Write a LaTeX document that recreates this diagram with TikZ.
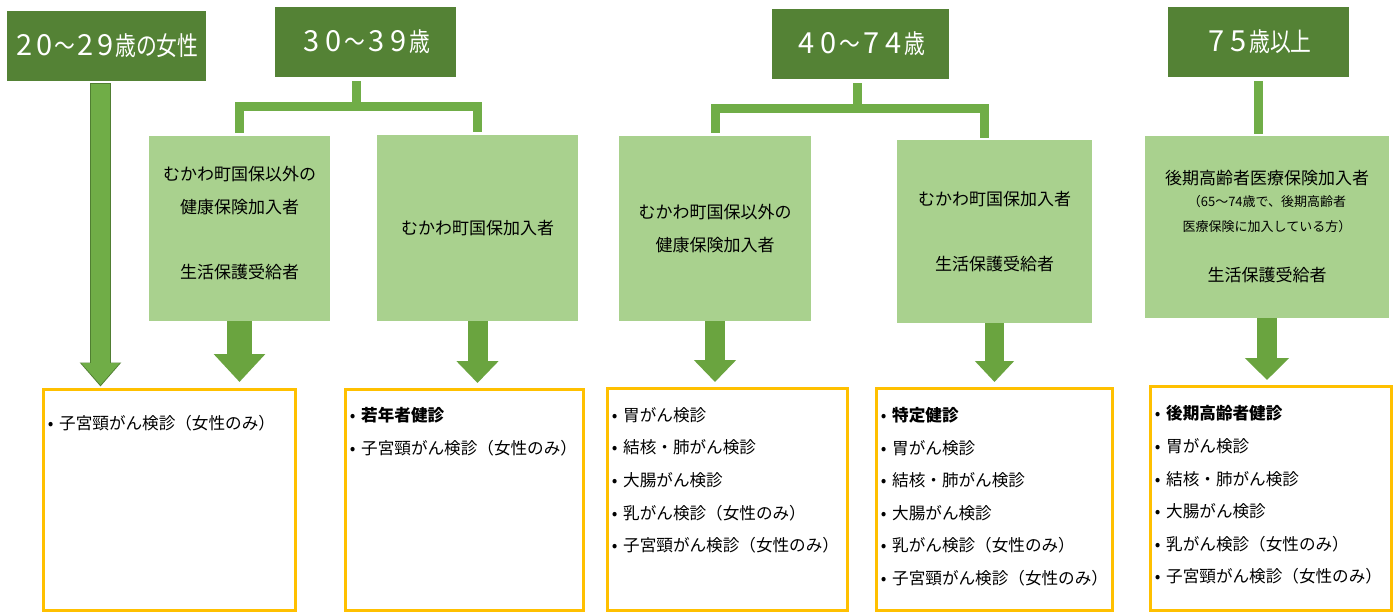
\documentclass[tikz,border=0pt]{standalone}
\usepackage{fontspec}
\setmainfont{Noto Sans CJK JP}
\newfontfamily\cabfont[FakeStretch=0.8]{Noto Sans CJK JP}
\usetikzlibrary{arrows.meta,positioning}

\definecolor{verdeosc}{HTML}{548235}
\definecolor{verdecla}{HTML}{A9D18E}
\definecolor{verdemed}{HTML}{70AD47}
\definecolor{verdeflecha}{HTML}{6AA43F}
\definecolor{verdeborde}{HTML}{507E32}
\definecolor{naranja}{HTML}{FFC000}

\newcommand{\vineta}{\makebox[17pt]{•}}
\newcommand{\cifra}[2][22pt]{\makebox[#1]{\rmfamily\fontsize{29}{30}\selectfont #2}}

\tikzset{
  edad/.style={fill=verdeosc, text=white, font=\cabfont\fontsize{26}{30}\selectfont, minimum height=70pt, inner sep=0pt},
  grupo/.style={fill=verdecla, font=\fontsize{17}{33}\selectfont, align=center, inner sep=0pt},
  examen/.style={draw=naranja, line width=3pt, inner sep=0pt},
  lista/.style={font=\fontsize{16.6}{32.6}\selectfont, align=left, inner sep=0pt},
  rama/.style={draw=verdemed, line width=9pt},
  flecha/.style={draw=verdeflecha, line width=20pt, -{Triangle[width=41pt,length=22pt]}, shorten >=5pt},
}

\begin{document}
\begin{tikzpicture}[x=1pt,y=-1pt]
  % Fondo
  \useasboundingbox[fill=white] (0,0) rectangle (1395,613);

  % Edades
  \node[edad, minimum width=199pt] (e20) at (106.5,46) {\cifra[20pt]{2}\cifra[20pt]{0}～\cifra[20pt]{2}\cifra[20pt]{9}歳の女性};
  \node[edad, minimum width=181pt] (e30) at (365.5,42) {\cifra{3}\cifra{0}～\cifra{3}\cifra{9}歳};
  \node[edad, minimum width=177pt] (e40) at (860.5,44) {\cifra{4}\cifra{0}～\cifra{7}\cifra{4}歳};
  \node[edad, minimum width=181pt] (e75) at (1258.5,42) {\cifra{7}\cifra{5}歳以上};

  % Grupos de seguro
  \node[grupo, minimum width=181pt, minimum height=185pt, text depth=12pt] (g30a) at (239.5,228.5) {むかわ町国保以外の\\健康保険加入者\\[32pt]生活保護受給者};
  \node[grupo, minimum width=201pt, minimum height=186pt] (g30b) at (477.5,228) {むかわ町国保加入者};
  \node[grupo, minimum width=192pt, minimum height=185pt] (g40a) at (715,228.5) {むかわ町国保以外の\\健康保険加入者};
  \node[grupo, minimum width=195pt, minimum height=183pt] (g40b) at (994.5,231.5) {むかわ町国保加入者\\[32pt]生活保護受給者};
  \node[grupo, minimum width=244pt, minimum height=182pt, font=\fontsize{17}{22}\selectfont] (g75) at (1267,227)
    {後期高齢者医療保険加入者\\{\fontsize{13}{22}\selectfont （65～74歳で、後期高齢者}\\[3pt]{\fontsize{13}{22}\selectfont 医療保険に加入している方）}\\[28pt]生活保護受給者};

  % Cuadros de examenes
  \node[examen, minimum width=252pt, minimum height=221pt] (x20) at (169.5,500) {};
  \node[examen, minimum width=238pt, minimum height=221pt] (x30) at (464.5,500) {};
  \node[examen, minimum width=240pt, minimum height=222pt] (x40a) at (727.5,499.5) {};
  \node[examen, minimum width=236pt, minimum height=222pt] (x40b) at (994.5,499.5) {};
  \node[examen, minimum width=241pt, minimum height=224pt] (x75) at (1271,498.5) {};

  % Listas
  \node[lista, below right=27pt and 0pt of x20.north west] (l20) {\vineta 子宮頸がん検診（女性のみ）};
  \node[lista, below right=19pt and 0pt of x30.north west] (l30) {\vineta{\bfseries 若年者健診}\\\vineta 子宮頸がん検診（女性のみ）};
  \node[lista, below right=20pt and 0pt of x40a.north west] (l40a) {\vineta 胃がん検診\\\vineta 結核・肺がん検診\\\vineta 大腸がん検診\\\vineta 乳がん検診（女性のみ）\\\vineta 子宮頸がん検診（女性のみ）};
  \node[lista, below right=20pt and 0pt of x40b.north west] (l40b) {\vineta{\bfseries 特定健診}\\\vineta 胃がん検診\\\vineta 結核・肺がん検診\\\vineta 大腸がん検診\\\vineta 乳がん検診（女性のみ）\\\vineta 子宮頸がん検診（女性のみ）};
  \node[lista, below right=20.5pt and 0pt of x75.north west] (l75) {\vineta{\bfseries 後期高齢者健診}\\\vineta 胃がん検診\\\vineta 結核・肺がん検診\\\vineta 大腸がん検診\\\vineta 乳がん検診（女性のみ）\\\vineta 子宮頸がん検診（女性のみ）};

  % Ramas
  \coordinate (j30) at (356,106.5);
  \coordinate (j40) at (857,108);
  \draw[rama, shorten <=4pt] (j30 |- e30.south) -- (j30);
  \draw[rama, shorten <=3pt, shorten >=3pt] (g30a.north) |- (j30) -| (g30b.north);
  \draw[rama, shorten <=4pt] (j40 |- e40.south) -- (j40);
  \draw[rama, shorten <=3pt, shorten >=2pt] (g40a.north) |- (j40) -| ([xshift=-10pt]g40b.north);
  \draw[rama, shorten <=4pt, shorten >=2pt] (e75.south) -- (e75.south |- g75.north);

  % Flechas
  \draw[flecha, draw=verdeborde, line width=21pt, -{Triangle[width=40pt,length=24pt]}, shorten <=2pt, shorten >=1.5pt] ([xshift=-6pt]e20.south) -- ([xshift=-6pt]e20.south |- x20.north);
  \draw[flecha, draw=verdemed, line width=19pt, -{Triangle[width=37pt,length=22pt]}, shorten <=3pt, shorten >=3pt] ([xshift=-6pt]e20.south) -- ([xshift=-6pt]e20.south |- x20.north);
  \draw[flecha, line width=25pt, -{Triangle[width=50pt,length=28pt]}, shorten >=6pt] (g30a.south) -- (g30a.south |- x20.north);
  \draw[flecha] (g30b.south) -- (g30b.south |- x30.north);
  \draw[flecha] (g40a.south) -- (g40a.south |- x40a.north);
  \draw[flecha, line width=19pt, -{Triangle[width=38pt,length=21pt]}] (g40b.south) -- (g40b.south |- x40b.north);
  \draw[flecha, -{Triangle[width=43pt,length=22pt]}] (g75.south) -- (g75.south |- x75.north);
\end{tikzpicture}
\end{document}
